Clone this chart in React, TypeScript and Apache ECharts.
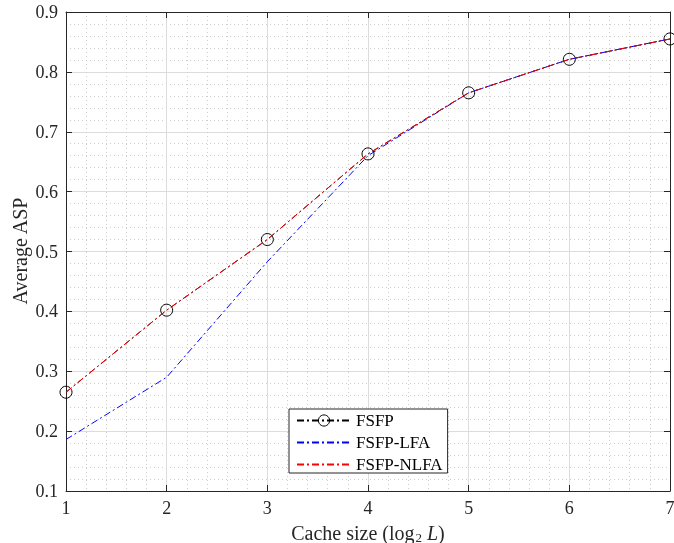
import React, { useEffect, useRef } from "react";
import * as echarts from "echarts";

const cacheSizes = [1, 2, 3, 4, 5, 6, 7];
const fsfp = [0.265, 0.402, 0.52, 0.663, 0.765, 0.821, 0.855];
const fsfpLfa = [0.186, 0.29, 0.483, 0.66, 0.765, 0.821, 0.855];
const fsfpNlfa = [0.265, 0.402, 0.52, 0.663, 0.765, 0.821, 0.855];

const xTitle = "{n|Cache size (log}{s|2}{i| L}{n|)}";
const yTitle = "Average ASP";

const FONT = "Liberation Serif";
const INK = "#262626";
const dashDot = [7, 3, 2, 3];

export default function App() {
  const ref = useRef<HTMLDivElement>(null);
  useEffect(() => {
    if (!ref.current) return;
    const chart = echarts.init(ref.current, undefined, { renderer: "svg" });
    const pair = (ys: number[]) => cacheSizes.map((x, i) => [x, ys[i]]);
    const mkLine = () => ({ show: true, lineStyle: { color: INK, width: 1 } });
    const mkTick = () => ({ show: true, inside: true, length: 6, lineStyle: { color: INK, width: 1 } });
    const mkMajor = () => ({ show: true, lineStyle: { color: "#dcdcdc", width: 1 } });
    const mkMinorT = () => ({ show: true, splitNumber: 5, length: 0 });
    const mkMinorL = () => ({ show: true, lineStyle: { color: "#cccccc", width: 1, type: [1, 3] } });
    const plainAxis = (position: string) => ({
      type: "value",
      position,
      axisLine: mkLine(),
      axisTick: mkTick(),
      axisLabel: { show: false },
      splitLine: { show: false },
    });
    chart.setOption({
      animation: false,
      grid: { left: 66, right: 4, top: 12, bottom: 52, outerBoundsMode: "none" },
      legend: {
        orient: "vertical",
        left: 289,
        top: 409,
        itemWidth: 54,
        itemHeight: 14,
        itemGap: 5,
        padding: [3, 5, 0, 7],
        backgroundColor: "#ffffff",
        borderColor: INK,
        borderWidth: 1,
        borderRadius: 0,
        textStyle: { fontFamily: FONT, fontSize: 17, color: "#000000" },
        data: [
          { name: "FSFP", itemStyle: { color: "rgba(0,0,0,0)", borderColor: "#000000", borderWidth: 1 } },
          { name: "FSFP-LFA", itemStyle: { color: "rgba(0,0,0,0)", borderWidth: 0, opacity: 0 } },
          { name: "FSFP-NLFA", itemStyle: { color: "rgba(0,0,0,0)", borderWidth: 0, opacity: 0 } },
        ],
      },
      graphic: [
        {
          type: "text",
          x: 368,
          y: 533,
          style: {
            text: xTitle,
            align: "center",
            verticalAlign: "middle",
            rich: {
              n: { fontFamily: FONT, fontSize: 20, fill: INK },
              s: { fontFamily: FONT, fontSize: 13, fill: INK, padding: [9, 0, 0, 1] },
              i: { fontFamily: FONT, fontSize: 20, fontStyle: "italic", fill: INK },
            },
          },
        },
        {
          type: "text",
          x: 20,
          y: 251,
          rotation: Math.PI / 2,
          style: {
            text: yTitle,
            align: "center",
            verticalAlign: "middle",
            fontFamily: FONT,
            fontSize: 20,
            fill: INK,
          },
        },
      ],
      xAxis: [
        {
          type: "value",
          min: 1,
          max: 7,
          interval: 1,
          axisLine: mkLine(),
          axisTick: mkTick(),
          axisLabel: { fontSize: 18, color: INK, fontFamily: FONT },
          splitLine: mkMajor(),
          minorTick: mkMinorT(),
          minorSplitLine: mkMinorL(),
        },
        { ...plainAxis("top"), min: 1, max: 7, interval: 1 },
      ],
      yAxis: [
        {
          type: "value",
          min: 0.1,
          max: 0.9,
          interval: 0.1,
          axisLine: mkLine(),
          axisTick: mkTick(),
          axisLabel: { fontSize: 18, color: INK, fontFamily: FONT },
          splitLine: mkMajor(),
          minorTick: mkMinorT(),
          minorSplitLine: mkMinorL(),
        },
        { ...plainAxis("right"), min: 0.1, max: 0.9, interval: 0.1 },
      ],
      series: [
        {
          name: "FSFP",
          type: "line",
          data: pair(fsfp),
          color: "#000000",
          symbol: "circle",
          symbolSize: 12,
          showSymbol: true,
          itemStyle: { color: "rgba(0,0,0,0)", borderColor: "#000000", borderWidth: 1 },
          lineStyle: { color: "#000000", width: 1, type: dashDot },
          z: 3,
        },
        {
          name: "FSFP-LFA",
          type: "line",
          data: pair(fsfpLfa),
          color: "#0000ff",
          symbol: "none",
          lineStyle: { color: "#0000ff", width: 1, type: dashDot },
          z: 4,
        },
        {
          name: "FSFP-NLFA",
          type: "line",
          data: pair(fsfpNlfa),
          color: "#ff0000",
          symbol: "none",
          lineStyle: { color: "#ff0000", width: 1, type: dashDot },
          z: 5,
        },
      ],
    });
    return () => chart.dispose();
  }, []);
  return <div ref={ref} style={{ position: "fixed", left: 0, top: 0, width: 674, height: 543 }} />;
}
